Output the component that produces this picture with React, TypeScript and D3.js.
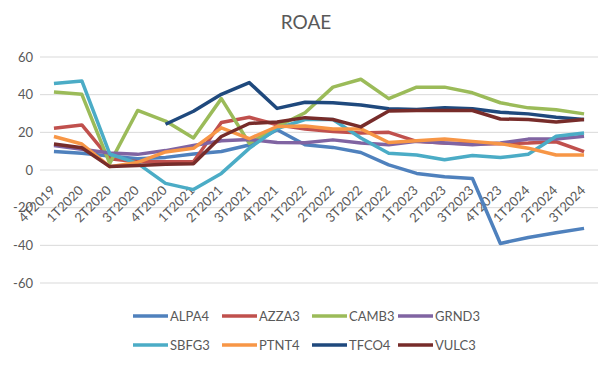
import React, { useEffect, useRef } from "react";
import { select, scalePoint, scaleLinear, line } from "d3";

const quarters = [
  "4T2019", "1T2020", "2T2020", "3T2020", "4T2020", "1T2021", "2T2021", "3T2021", "4T2021", "1T2022",
  "2T2022", "3T2022", "4T2022", "1T2023", "2T2023", "3T2023", "4T2023", "1T2024", "2T2024", "3T2024",
];
const yTicks = [-60, -40, -20, 0, 20, 40, 60];

const ALPA4 = [9.8, 8.9, 7.4, 6, 6.7, 8.5, 9.8, 13.3, 21.4, 13.4, 12, 9.3, 2.7, -1.8, -3.6, -4.5, -39, -35.8, -33.3, -31];
const AZZA3 = [22.2, 23.9, 6, 4.4, 4.4, 4.4, 25.2, 28, 24, 21.8, 20.5, 19.6, 20, 15.2, 14.3, 14, 14, 14.3, 15, 9.8];
const CAMB3 = [41.4, 40.2, 3.5, 31.6, 26, 17, 37.9, 14.2, 23, 30.4, 44, 48.2, 37.9, 44, 44, 41, 35.7, 33, 32, 29.8];
const GRND3 = [13, 11, 9, 8.3, 10.3, 13, 15.5, 16.2, 14.6, 14.5, 16, 14.3, 13.4, 15.2, 14.3, 13.4, 14.3, 16.4, 16.4, 17.9];
const SBFG3 = [45.9, 47.3, 8.5, 3.5, -7.1, -10.4, -1.8, 11.5, 22, 26.8, 26.8, 17, 8.9, 8, 5.4, 7.7, 6.6, 8.4, 17.9, 19.6];
const PTNT4 = [17.8, 13.8, 1.8, 4, 9.6, 11.5, 22.4, 16.6, 23.1, 23.4, 21.8, 21.8, 14.6, 15.5, 16.4, 15.2, 14, 11.6, 8, 8];
const TFCO4 = [null, null, null, null, 24.3, 31.2, 40.2, 46.4, 32.7, 36, 35.7, 34.5, 32.5, 32.1, 33, 32.5, 30.7, 29.8, 28, 26.8];
const VULC3 = [13.8, 11.8, 1.8, 2.4, 3, 3.3, 17.8, 24.7, 25.5, 27.8, 26.8, 22.9, 31.3, 31.6, 31.6, 31.6, 27.1, 26.8, 25.5, 26.8];

const seriesNames = ["ALPA4", "AZZA3", "CAMB3", "GRND3", "SBFG3", "PTNT4", "TFCO4", "VULC3"];
const seriesValues: (number | null)[][] = [ALPA4, AZZA3, CAMB3, GRND3, SBFG3, PTNT4, TFCO4, VULC3];
const colors = ["#4F81BD", "#C0504D", "#9BBB59", "#8064A2", "#4BACC6", "#F79646", "#1F497D", "#772C2A"];

const App = () => {
  const svgRef = useRef<SVGSVGElement>(null);

  useEffect(() => {
    const width = 612;
    const height = 366;
    const font = "Lato, 'Open Sans', sans-serif";
    const textColor = "#595959";

    const svg = select(svgRef.current);
    svg.selectAll("*").remove();
    svg.attr("width", width).attr("height", height);

    svg.append("rect").attr("width", width).attr("height", height).attr("fill", "#fff");

    // scales
    const x = scalePoint<string>().domain(quarters).range([40, 598]).padding(0.5);
    const y = scaleLinear().domain([-60, 60]).range([283, 57]);

    // title
    svg.append("text")
      .attr("x", 306)
      .attr("y", 29)
      .attr("text-anchor", "middle")
      .attr("font-family", font)
      .attr("font-size", 19)
      .attr("fill", textColor)
      .text("ROAE");

    // gridlines + y labels
    const yg = svg.append("g");
    yTicks.forEach((t) => {
      yg.append("line")
        .attr("x1", 40).attr("x2", 598)
        .attr("y1", y(t)).attr("y2", y(t))
        .attr("stroke", "#D9D9D9").attr("stroke-width", 1);
      yg.append("text")
        .attr("x", 33)
        .attr("y", y(t))
        .attr("dy", "0.35em")
        .attr("text-anchor", "end")
        .attr("font-family", font)
        .attr("font-size", 13)
        .attr("fill", textColor)
        .text(t);
    });

    // x labels, rotated
    const xg = svg.append("g");
    quarters.forEach((q) => {
      const px = (x(q) ?? 0) - 1;
      const py = 188;
      xg.append("text")
        .attr("transform", `translate(${px}, ${py}) rotate(-45)`)
        .attr("text-anchor", "end")
        .attr("dy", "0.35em")
        .attr("font-family", font)
        .attr("font-size", 13)
        .attr("fill", textColor)
        .text(q);
    });

    // lines
    const lineGen = line<number | null>()
      .defined((d) => d !== null)
      .x((_, i) => x(quarters[i]) ?? 0)
      .y((d) => y(d as number));

    seriesValues.forEach((vals, i) => {
      svg.append("path")
        .datum(vals)
        .attr("fill", "none")
        .attr("stroke", colors[i])
        .attr("stroke-width", 3.5)
        .attr("stroke-linejoin", "round")
        .attr("d", lineGen);
    });

    // legend
    const legX = [133, 222, 312, 398];
    const legY = [316, 345];
    seriesNames.forEach((name, i) => {
      const lx = legX[i % 4];
      const ly = legY[Math.floor(i / 4)];
      svg.append("line")
        .attr("x1", lx).attr("x2", lx + 35)
        .attr("y1", ly).attr("y2", ly)
        .attr("stroke", colors[i])
        .attr("stroke-width", 3.5);
      svg.append("text")
        .attr("x", lx + 37)
        .attr("y", ly)
        .attr("dy", "0.35em")
        .attr("font-family", font)
        .attr("font-size", 13)
        .attr("fill", textColor)
        .text(name);
    });
  }, []);

  return <svg ref={svgRef} style={{ position: "absolute", left: 0, top: 0, display: "block" }}></svg>;
};

export default App;
